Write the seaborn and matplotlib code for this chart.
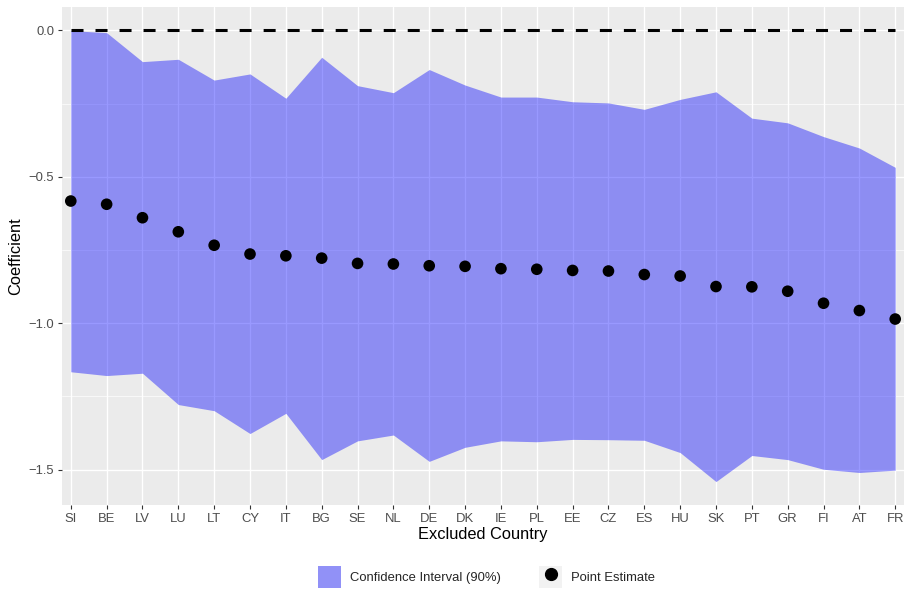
import numpy as np
import pandas as pd
import matplotlib
matplotlib.use("Agg")
import matplotlib.pyplot as plt
from matplotlib.patches import Patch
from matplotlib.lines import Line2D
from matplotlib.legend_handler import HandlerTuple
from matplotlib.ticker import MultipleLocator
import seaborn as sns

countries = ["SI", "BE", "LV", "LU", "LT", "CY", "IT", "BG", "SE", "NL", "DE", "DK",
             "IE", "PL", "EE", "CZ", "ES", "HU", "SK", "PT", "GR", "FI", "AT", "FR"]
estimate = [-0.583, -0.594, -0.640, -0.688, -0.734, -0.764, -0.770, -0.778, -0.796, -0.798,
            -0.804, -0.806, -0.814, -0.816, -0.820, -0.822, -0.834, -0.839, -0.875, -0.876,
            -0.891, -0.932, -0.957, -0.986]
upper = [-0.001, -0.008, -0.107, -0.099, -0.170, -0.149, -0.232, -0.092, -0.189, -0.213,
         -0.134, -0.187, -0.228, -0.228, -0.244, -0.248, -0.270, -0.236, -0.210, -0.300,
         -0.316, -0.363, -0.402, -0.468]
lower = [-1.166, -1.179, -1.171, -1.278, -1.299, -1.377, -1.308, -1.466, -1.402, -1.382,
         -1.472, -1.424, -1.402, -1.405, -1.397, -1.398, -1.400, -1.442, -1.541, -1.452,
         -1.466, -1.499, -1.510, -1.502]

df = pd.DataFrame({"country": countries, "estimate": estimate, "upper": upper, "lower": lower})
df["pos"] = np.arange(len(df))

sns.set_theme(style="darkgrid")
plt.rcParams["font.family"] = ["Liberation Sans", "DejaVu Sans"]

fig = plt.figure(figsize=(9.07, 5.92), dpi=100)
ax = fig.add_axes([62 / 907, 1 - 505 / 592, (904 - 62) / 907, (505 - 6.7) / 592])
ax.set_facecolor("#EBEBEB")
ax.set_axisbelow(True)

ax.fill_between(df["pos"], df["lower"], df["upper"], color="blue", alpha=0.4,
                linewidth=0, zorder=1)
ax.hlines(0, xmin=df["pos"].min(), xmax=df["pos"].max(), colors="black",
          linewidth=2.2, linestyles=(0, (3.93, 3.93)), zorder=2)
sns.scatterplot(data=df, x="pos", y="estimate", color="black", s=70, edgecolor="none",
                ax=ax, zorder=3, legend=False)

n = len(df)
ax.set_xlim(-0.245, n - 1 + 0.245)
ax.set_ylim(-1.621, 0.0806)
ax.set_xticks(df["pos"])
ax.set_xticklabels(df["country"])
ax.yaxis.set_major_locator(MultipleLocator(0.5))
ax.yaxis.set_minor_locator(MultipleLocator(0.25))
ax.yaxis.set_major_formatter(matplotlib.ticker.FuncFormatter(
    lambda v, p: ("%.1f" % v).replace("-", "\u2212")))

ax.grid(which="major", color="white", linewidth=1.0)
ax.grid(which="minor", axis="y", color="white", linewidth=0.5)
ax.grid(which="minor", axis="x", visible=False)
for s in ax.spines.values():
    s.set_visible(False)

ax.tick_params(axis="both", which="major", bottom=True, left=True, length=3, width=0.8,
               color="#333333", labelsize=9.4, labelcolor="#4D4D4D", pad=2.5)
ax.tick_params(axis="both", which="minor", length=0)

ax.set_xlabel("Excluded Country", fontsize=11.8, color="black", labelpad=1.5)
ax.set_ylabel("Coefficient", fontsize=11.8, color="black", labelpad=4)

key_bg = "#F2F2F2"
h_ci = (Patch(facecolor=key_bg, edgecolor="none"),
        Patch(facecolor="blue", alpha=0.4, edgecolor="none"))
h_pt = (Patch(facecolor=key_bg, edgecolor="none"),
        Line2D([], [], linestyle="none", marker="o", markersize=8.5, color="black"))
fig.legend([h_ci, h_pt], ["Confidence Interval (90%)", "Point Estimate"],
           handler_map={tuple: HandlerTuple(ndivide=1, pad=0)},
           loc="center", bbox_to_anchor=(486.7 / 907, 1 - 577 / 592), ncol=2,
           frameon=False, fontsize=9.4, handlelength=1.77, handleheight=2.1,
           handletextpad=0.7, columnspacing=2.9, borderaxespad=0)

fig.savefig("out.png", dpi=100)
